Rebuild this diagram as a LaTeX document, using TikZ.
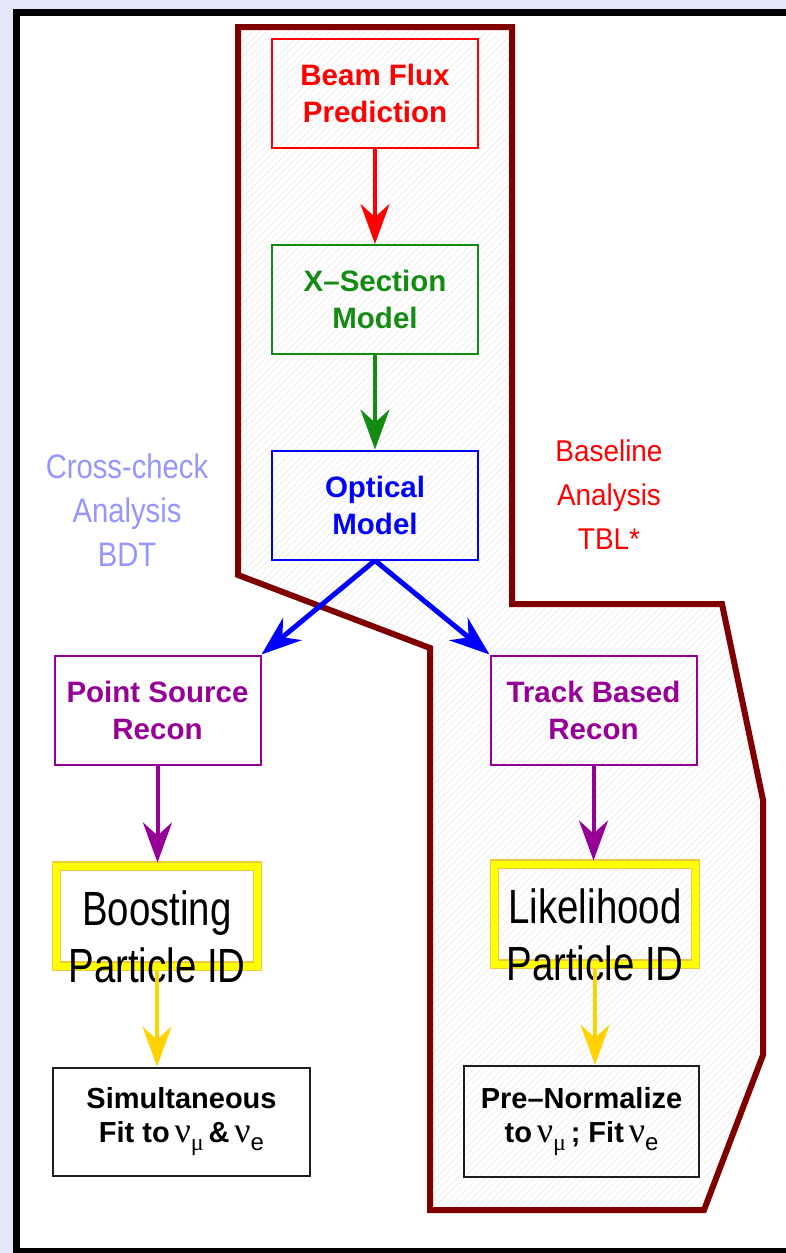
\documentclass[tikz,border=0pt]{standalone}
\usepackage{fontspec}
\setmainfont{Liberation Sans}
\newfontfamily\nufont{Liberation Serif}
\usetikzlibrary{arrows.meta,patterns.meta}

\definecolor{pagebg}{HTML}{E6E6FA}
\definecolor{regionred}{RGB}{128,0,0}
\definecolor{fluxred}{RGB}{255,0,0}
\definecolor{xsecgreen}{RGB}{20,140,20}
\definecolor{opticblue}{RGB}{0,0,255}
\definecolor{reconpurple}{RGB}{150,0,150}
\definecolor{pidyellow}{RGB}{255,255,0}
\definecolor{pidgold}{RGB}{240,200,60}
\definecolor{fitgold}{RGB}{255,210,0}
\definecolor{crosslav}{RGB}{150,150,255}
\definecolor{fitgray}{RGB}{30,30,30}

% neutrino symbol with a subscript: #1 = subscript font, #2 = subscript text
\newcommand\nusym[2]{{\mdseries\nufont\fontsize{36}{36}\selectfont ν}\raisebox{-8pt}{\mdseries#1\fontsize{24}{24}\selectfont #2}}

\tikzset{
  stagebox/.style={draw, line width=2pt, minimum width=206pt, minimum height=109pt,
    align=center, inner sep=0pt, font=\bfseries\fontsize{29.5}{37}\selectfont},
  pidbox/.style={draw=pidyellow, line width=7pt, minimum width=201pt, minimum height=100pt,
    inner sep=0pt, preaction={draw=pidgold, line width=9.5pt}},
  pidtext/.style={align=center, inner sep=0pt, text=black,
    font=\fontsize{48}{57}\selectfont},
  fitbox/.style={draw=fitgray, line width=2.6pt, align=center, inner sep=0pt,
    font=\bfseries\fontsize{29}{40}\selectfont},
  flow/.style={line width=4pt, -{Stealth[length=40pt,width=29pt,inset=13pt]}},
  sidelabel/.style={align=center, inner sep=0pt},
}

\begin{document}
\begin{tikzpicture}[x=1pt,y=-1pt]
  % page background and outer frame
  \fill[pagebg] (0,0) rectangle (786,1253);
  \useasboundingbox (0,0) rectangle (786,1253);
  \filldraw[fill=white, draw=black, line width=7pt] (16.5,12.5) rectangle (800,1251.5);

  % region of the baseline analysis
  \draw[regionred, line width=6pt, line join=miter,
        pattern={Lines[angle=45,distance=5pt,line width=0.6pt]}, pattern color=black!8]
    (238,27) -- (512,27) -- (512,604) -- (722,604) -- (763,800) -- (763,1055)
    -- (704,1210) -- (430,1210) -- (430,648) -- (238,575) -- cycle;

  % analysis chain
  \node[stagebox, draw=fluxred, text=fluxred] (flux) at (375,93) {Beam Flux\\Prediction};
  \node[stagebox, draw=xsecgreen, text=xsecgreen] (xsec) at (375,299.5) {X–Section\\Model};
  \node[stagebox, draw=opticblue, text=opticblue] (optic) at (375,505) {Optical\\Model};
  \node[stagebox, draw=reconpurple, text=reconpurple] (psrc) at (157.5,710) {Point Source\\Recon};
  \node[stagebox, draw=reconpurple, text=reconpurple] (track) at (593.5,710) {Track Based\\Recon};

  \node[pidbox] (boost) at (157,916) {};
  \node[pidtext] (boosttxt) at (157,937) {\scalebox{0.8}[1]{Boosting}\\\scalebox{0.8}[1]{Particle ID}};
  \node[pidbox] (lhood) at (595,914) {};
  \node[pidtext] (lhoodtxt) at (595,935) {\scalebox{0.8}[1]{Likelihood}\\\scalebox{0.8}[1]{Particle ID}};

  \node[fitbox, minimum width=257pt, minimum height=108pt] (simfit) at (181.5,1122)
    {Simultaneous\\[-6pt]Fit to\,\nusym{\nufont}{μ}\,\&\,\nusym{}{e}};
  \node[fitbox, minimum width=235pt, minimum height=111pt] (prenorm) at (581.5,1121.5)
    {Pre–Normalize\\[-6pt]to\,\nusym{\nufont}{μ}\,; Fit\,\nusym{}{e}};

  % side labels
  \node[sidelabel, text=crosslav, font=\fontsize{34}{44}\selectfont] (crosslbl) at (127,510)
    {\scalebox{0.86}[1]{Cross-check}\\\scalebox{0.86}[1]{Analysis}\\\scalebox{0.86}[1]{BDT}};
  \node[sidelabel, text=fluxred, font=\fontsize{30}{44}\selectfont] (baselbl) at (609,495)
    {\scalebox{0.93}[1]{Baseline}\\\scalebox{0.93}[1]{Analysis}\\\scalebox{0.93}[1]{TBL*}};

  % connectors
  \draw[flow, fluxred] (flux.south) -- (xsec.north);
  \draw[flow, xsecgreen] (xsec.south) -- (optic.north);
  \draw[flow, opticblue, line width=5pt] (optic.south) -- (psrc.north east);
  \draw[flow, opticblue, line width=5pt] (optic.south) -- (track.north west);
  \draw[flow, reconpurple] (psrc.south) -- (boost.north -| psrc.south);
  \draw[flow, reconpurple] (track.south) -- (lhood.north -| track.south);
  \draw[flow, fitgold] (boost.south) -- (simfit.north -| boost.south);
  \draw[flow, fitgold] (lhood.south) -- (prenorm.north -| lhood.south);
\end{tikzpicture}
\end{document}
